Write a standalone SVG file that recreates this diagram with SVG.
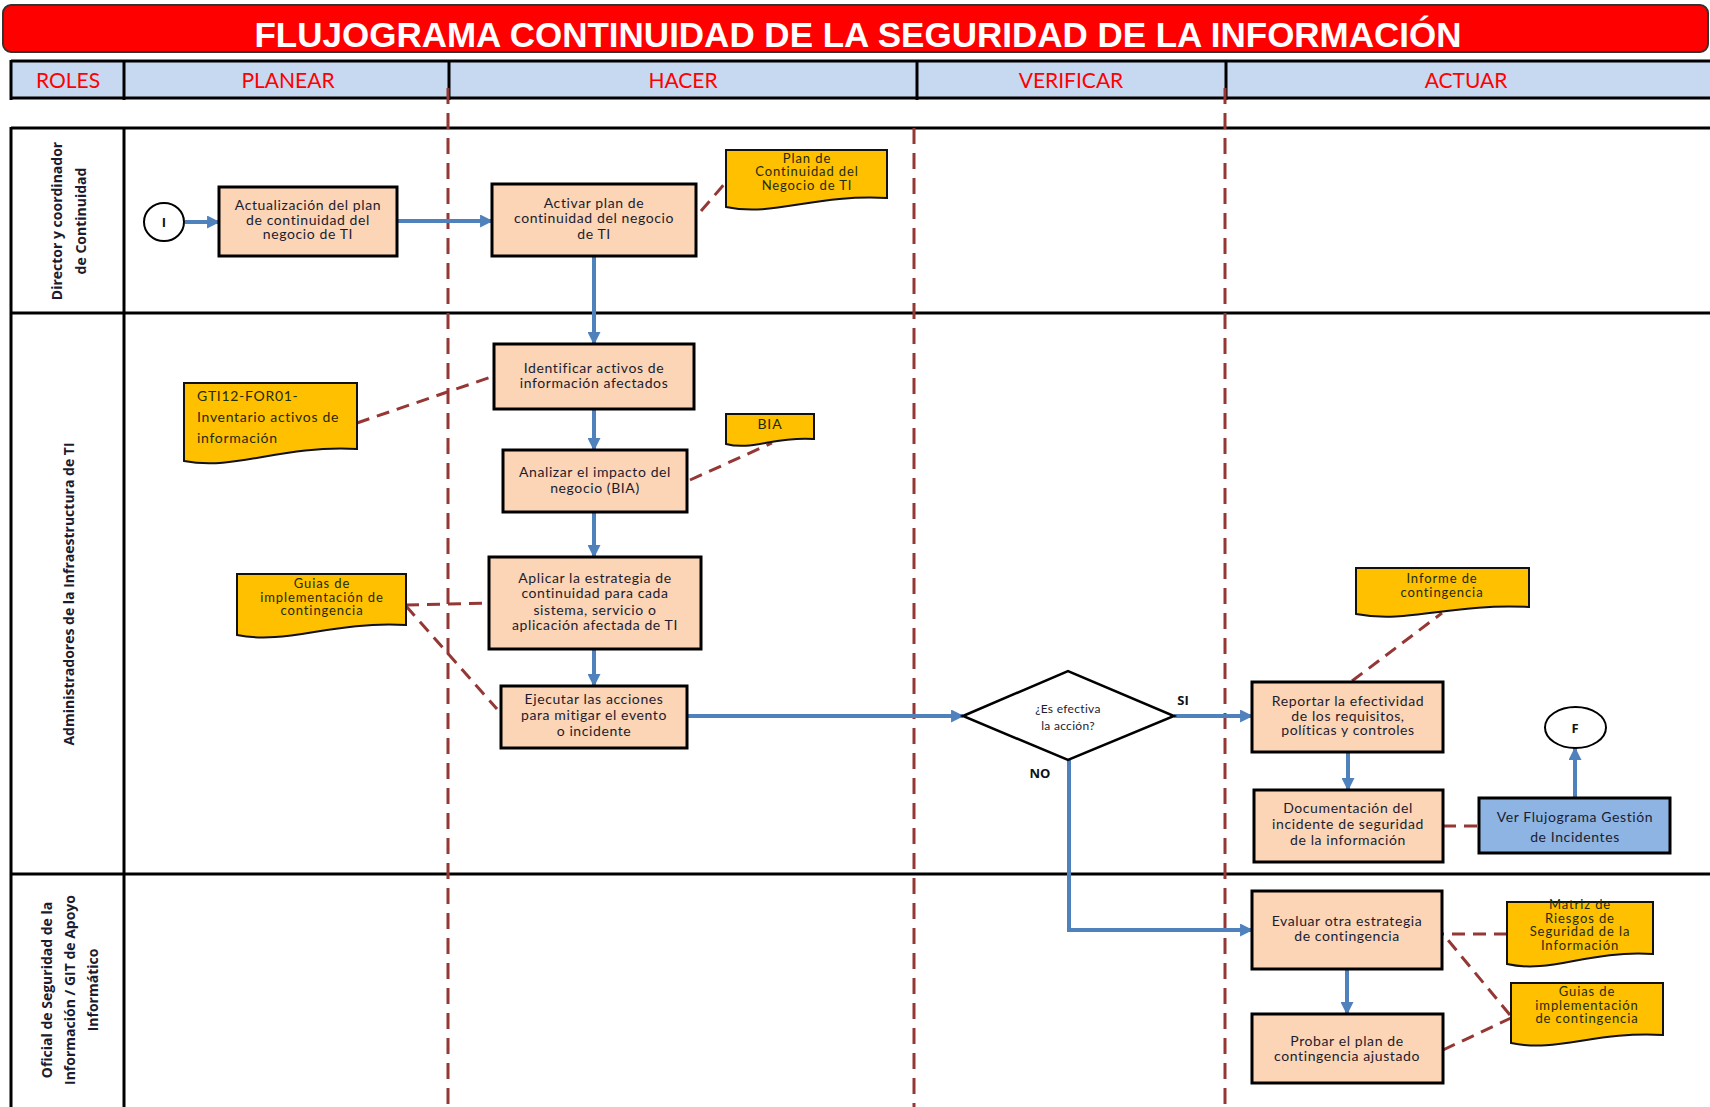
<svg xmlns="http://www.w3.org/2000/svg" width="1710" height="1107" viewBox="0 0 1710 1107">
<style>
.box{fill:#FBD5B5;stroke:#000;stroke-width:3}
.blue{fill:#8DB4E2;stroke:#000;stroke-width:3}
.doc{fill:#FFC000;stroke:#111;stroke-width:2}
.term{fill:#fff;stroke:#000;stroke-width:2}
.t{font-family:Lato,"Liberation Sans",sans-serif;font-size:14px;letter-spacing:0.6px;fill:#1c1c30;text-anchor:middle}
.dt{font-family:Lato,"Liberation Sans",sans-serif;font-size:13px;letter-spacing:0.9px;fill:#1d2b0b;text-anchor:middle}
.lane{font-family:"Open Sans",Lato,"Liberation Sans",sans-serif;font-size:14px;font-weight:bold;fill:#1c1c30;text-anchor:middle}
.hd{font-family:Lato,"Liberation Sans",sans-serif;font-size:21px;fill:#FF0000;text-anchor:middle}
.lbl{font-family:"Open Sans",Lato,"Liberation Sans",sans-serif;font-size:13px;font-weight:bold;fill:#111;text-anchor:middle}
.flow{stroke:#4F81BD;stroke-width:4;fill:none;marker-end:url(#ah)}
.assoc{stroke:#953735;stroke-width:3;stroke-dasharray:13 8;fill:none}
.swim{stroke:#953735;stroke-width:3;stroke-dasharray:16 9}
.grid{stroke:#000;stroke-width:3}
</style>
<defs>
<marker id="ah" viewBox="0 0 12 12" refX="11" refY="6" markerWidth="13" markerHeight="13" markerUnits="userSpaceOnUse" orient="auto"><path d="M0,0 L12,6 L0,12 z" fill="#4F81BD"/></marker>
</defs>
<rect width="1710" height="1107" fill="#fff"/>
<g id="title">
<rect x="3" y="5" width="1705" height="47" rx="8" fill="#FF0000" stroke="#333" stroke-width="2"/>
<text x="858" y="47" font-family="'Liberation Sans',Arial,sans-serif" font-size="35" font-weight="bold" fill="#fff" text-anchor="middle" textLength="1207" lengthAdjust="spacingAndGlyphs">FLUJOGRAMA CONTINUIDAD DE LA SEGURIDAD DE LA INFORMACIÓN</text>
</g>
<g id="header">
<rect x="11" y="61" width="1705" height="37" fill="#C6D9F1"/>
<line class="grid" x1="11" y1="61" x2="1710" y2="61"/>
<line class="grid" x1="11" y1="98" x2="1710" y2="98"/>
<line class="grid" x1="11" y1="60" x2="11" y2="100"/>
<line class="grid" x1="124" y1="60" x2="124" y2="100"/>
<line class="grid" x1="449" y1="60" x2="449" y2="100"/>
<line class="grid" x1="917" y1="60" x2="917" y2="100"/>
<line class="grid" x1="1226" y1="60" x2="1226" y2="100"/>
<text class="hd" x="68" y="88">ROLES</text>
<text class="hd" x="288" y="88">PLANEAR</text>
<text class="hd" x="683" y="88">HACER</text>
<text class="hd" x="1071" y="88">VERIFICAR</text>
<text class="hd" x="1466" y="88">ACTUAR</text>
</g>
<g id="lanes">
<line class="grid" x1="11" y1="128" x2="1710" y2="128"/>
<line class="grid" x1="11" y1="313" x2="1710" y2="313"/>
<line class="grid" x1="11" y1="874" x2="1710" y2="874"/>
<line class="grid" x1="11" y1="127" x2="11" y2="1107"/>
<line class="grid" x1="124" y1="127" x2="124" y2="1107"/>
<line class="swim" x1="448" y1="88" x2="448" y2="1107"/>
<line class="swim" x1="914" y1="128" x2="914" y2="1107"/>
<line class="swim" x1="1225" y1="88" x2="1225" y2="1107"/>
<text class="lane" transform="translate(62,221) rotate(-90)"><tspan x="0" y="0">Director y coordinador</tspan><tspan x="0" y="24">de Continuidad</tspan></text>
<text class="lane" transform="translate(74,594) rotate(-90)">Administradores de la Infraestructura de TI</text>
<text class="lane" transform="translate(52,990) rotate(-90)"><tspan x="0" y="0">Oficial de Seguridad de la</tspan><tspan x="0" y="23">Información / GIT de Apoyo</tspan><tspan x="0" y="46">Informático</tspan></text>
</g>
<g id="connectors">
<path class="flow" d="M185,222 H219"/>
<path class="flow" d="M397,221 H492"/>
<path class="flow" d="M594,256 V344"/>
<path class="flow" d="M594,409 V450"/>
<path class="flow" d="M594,512 V557"/>
<path class="flow" d="M594,649 V686"/>
<path class="flow" d="M687,716 H963"/>
<path class="flow" d="M1174,716 H1252"/>
<path class="flow" d="M1348,752 V790"/>
<path class="flow" d="M1069,760 V930 H1252"/>
<path class="flow" d="M1347,969 V1014"/>
<path class="flow" d="M1575,798 V748"/>
<path class="assoc" d="M701,211 L727,181"/>
<path class="assoc" d="M357,423 L494,376"/>
<path class="assoc" d="M690,480 L772,443"/>
<path class="assoc" d="M406,605 L489,603"/>
<path class="assoc" d="M406,606 L497,709"/>
<path class="assoc" d="M1352,681 L1442,613"/>
<path class="assoc" d="M1443,826 L1480,826"/>
<path class="assoc" d="M1507,934 L1443,934"/>
<path class="assoc" d="M1510,1015 L1443,934"/>
<path class="assoc" d="M1443,1050 L1511,1018"/>
<text class="lbl" x="1183" y="705">SI</text>
<text class="lbl" x="1040" y="778">NO</text>
</g>
<g id="start">
<ellipse class="term" cx="164" cy="222" rx="20" ry="19"/>
<text class="lbl" x="164" y="227">I</text>
</g>
<g id="n_actualizacion">
<rect class="box" x="219" y="187" width="178" height="69"/>
<text class="t"><tspan x="308" y="210">Actualización del plan</tspan><tspan x="308" y="224.5">de continuidad del</tspan><tspan x="308" y="239">negocio de TI</tspan></text>
</g>
<g id="n_activar">
<rect class="box" x="492" y="184" width="204" height="72"/>
<text class="t"><tspan x="594" y="208">Activar plan de</tspan><tspan x="594" y="223">continuidad del negocio</tspan><tspan x="594" y="239">de TI</tspan></text>
</g>
<g id="d_plan">
<path class="doc" d="M726,150 H887 V198 C814.5,194 774.3,217 726,207 Z"/>
<text class="dt"><tspan x="807" y="162.5">Plan de</tspan><tspan x="807" y="176">Continuidad del</tspan><tspan x="807" y="189.5">Negocio de TI</tspan></text>
</g>
<g id="n_identificar">
<rect class="box" x="494" y="344" width="200" height="65"/>
<text class="t"><tspan x="594" y="373">Identificar activos de</tspan><tspan x="594" y="388">información afectados</tspan></text>
</g>
<g id="d_gti">
<path class="doc" d="M184,383 H357 V449 C279,445 236,471 184,461 Z"/>
<text class="dt" style="text-anchor:start;font-size:14px;letter-spacing:0.7px"><tspan x="197" y="401">GTI12-FOR01-</tspan><tspan x="197" y="422">Inventario activos de</tspan><tspan x="197" y="443">información</tspan></text>
</g>
<g id="n_analizar">
<rect class="box" x="503" y="450" width="184" height="62"/>
<text class="t"><tspan x="595" y="477">Analizar el impacto del</tspan><tspan x="595" y="493">negocio (BIA)</tspan></text>
</g>
<g id="d_bia">
<path class="doc" d="M726,414 H814 V439 C774.4,436 752.4,451 726,444 Z"/>
<text class="dt" x="770" y="429" style="font-size:14px">BIA</text>
</g>
<g id="n_aplicar">
<rect class="box" x="489" y="557" width="212" height="92"/>
<text class="t"><tspan x="595" y="583">Aplicar la estrategia de</tspan><tspan x="595" y="598">continuidad para cada</tspan><tspan x="595" y="614.5">sistema, servicio o</tspan><tspan x="595" y="630">aplicación afectada de TI</tspan></text>
</g>
<g id="d_guias1">
<path class="doc" d="M237,574 H406 V625 C330,621 287.7,645 237,635 Z"/>
<text class="dt"><tspan x="322" y="588">Guias de</tspan><tspan x="322" y="601.5">implementación de</tspan><tspan x="322" y="615">contingencia</tspan></text>
</g>
<g id="n_ejecutar">
<rect class="box" x="501" y="686" width="186" height="62"/>
<text class="t"><tspan x="594" y="704">Ejecutar las acciones</tspan><tspan x="594" y="720">para mitigar el evento</tspan><tspan x="594" y="736">o incidente</tspan></text>
</g>
<g id="n_decision">
<path d="M963,716 L1068,671 L1174,716 L1068,760 Z" fill="#fff" stroke="#000" stroke-width="2.5"/>
<text class="t" style="font-size:12px;letter-spacing:0.3px"><tspan x="1068" y="713">¿Es efectiva</tspan><tspan x="1068" y="730">la acción?</tspan></text>
</g>
<g id="n_reportar">
<rect class="box" x="1252" y="682" width="191" height="70"/>
<text class="t"><tspan x="1348" y="706">Reportar la efectividad</tspan><tspan x="1348" y="720.5">de los requisitos,</tspan><tspan x="1348" y="735">políticas y controles</tspan></text>
</g>
<g id="d_informe">
<path class="doc" d="M1356,568 H1529 V607 C1451,603 1408,624 1356,614 Z"/>
<text class="dt"><tspan x="1442" y="583">Informe de</tspan><tspan x="1442" y="596.5">contingencia</tspan></text>
</g>
<g id="n_documentacion">
<rect class="box" x="1254" y="790" width="189" height="72"/>
<text class="t"><tspan x="1348" y="813">Documentación del</tspan><tspan x="1348" y="829">incidente de seguridad</tspan><tspan x="1348" y="845">de la información</tspan></text>
</g>
<g id="n_ver">
<rect class="blue" x="1479" y="798" width="191" height="55"/>
<text class="t"><tspan x="1575" y="822">Ver Flujograma Gestión</tspan><tspan x="1575" y="842">de Incidentes</tspan></text>
</g>
<g id="end">
<ellipse class="term" cx="1575.5" cy="727.5" rx="30.5" ry="20.5"/>
<text class="lbl" x="1575" y="733">F</text>
</g>
<g id="n_evaluar">
<rect class="box" x="1252" y="891" width="190" height="78"/>
<text class="t"><tspan x="1347" y="926">Evaluar otra estrategia</tspan><tspan x="1347" y="940.5">de contingencia</tspan></text>
</g>
<g id="n_probar">
<rect class="box" x="1252" y="1014" width="191" height="69"/>
<text class="t"><tspan x="1347" y="1046">Probar el plan de</tspan><tspan x="1347" y="1060.5">contingencia  ajustado</tspan></text>
</g>
<g id="d_matriz">
<path class="doc" d="M1507,902 H1653 V954 C1587,950 1551,974 1507,964 Z"/>
<text class="dt"><tspan x="1580" y="909">Matriz de</tspan><tspan x="1580" y="922.5">Riesgos de</tspan><tspan x="1580" y="936">Seguridad de la</tspan><tspan x="1580" y="949.5">Información</tspan></text>
</g>
<g id="d_guias2">
<path class="doc" d="M1511,983 H1663 V1035 C1595,1031 1557,1053 1511,1043 Z"/>
<text class="dt"><tspan x="1587" y="996">Guias de</tspan><tspan x="1587" y="1009.5">implementación</tspan><tspan x="1587" y="1023">de contingencia</tspan></text>
</g>
</svg>
